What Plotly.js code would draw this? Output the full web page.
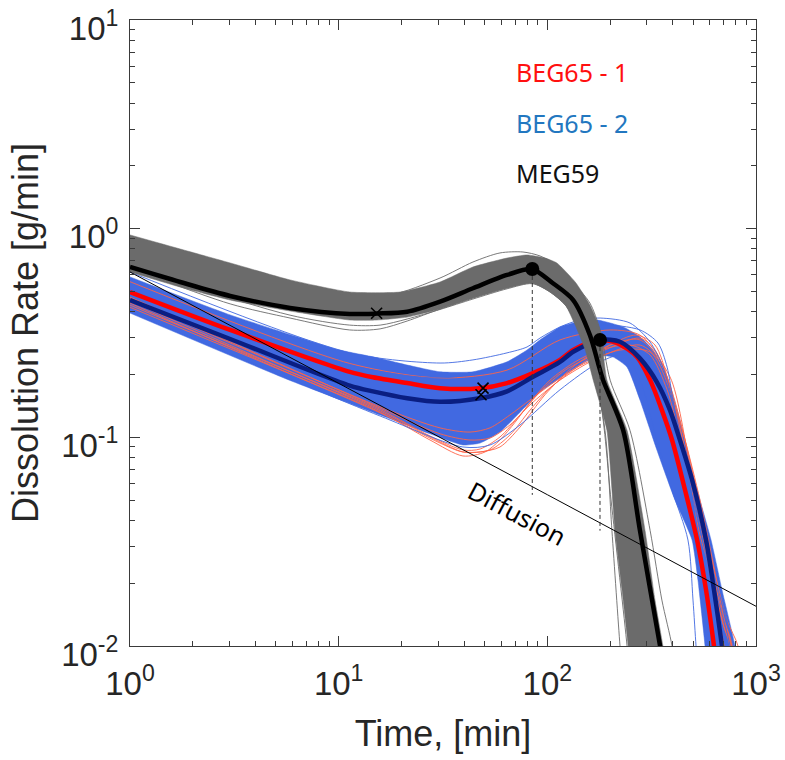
<!DOCTYPE html>
<html><head><meta charset="utf-8">
<script src="https://cdn.plot.ly/plotly-3.0.1.min.js"></script>
<style>html,body{margin:0;padding:0;background:#fff}</style>
</head><body><div id="chart" style="width:785px;height:760px"></div>
<script>
// ---------- data (time in min, rate in g/min) ----------
const xTickVals = [1, 10, 100, 1000];
const xTickText = ['10<sup>0</sup>', '10<sup>1</sup>', '10<sup>2</sup>', '10<sup>3</sup>'];
const yTickVals = [0.01, 0.1, 1, 10];
const yTickText = ['10<sup>-2</sup>', '10<sup>-1</sup>', '10<sup>0</sup>', '10<sup>1</sup>'];
const xMinorTickVals = [2, 3, 4, 5, 6, 7, 8, 9, 20, 30, 40, 50, 60, 70, 80, 90, 200, 300, 400, 500, 600, 700, 800, 900];
const yMinorTickVals = [0.02, 0.03, 0.04, 0.05, 0.06, 0.07, 0.08, 0.09, 0.2, 0.3, 0.4, 0.5, 0.6, 0.7, 0.8, 0.9, 2, 3, 4, 5, 6, 7, 8, 9];

// MEG59 ensemble envelope
const megBandUpperT = [1, 1.74, 3.02, 5.85, 11.3, 19.7, 30.6, 44.0, 64.1, 79.9, 97.5, 111, 136, 160, 179, 193, 241, 294, 328, 358, 371];
const megBandUpperRate = [0.933, 0.799, 0.685, 0.568, 0.497, 0.497, 0.555, 0.655, 0.723, 0.748, 0.723, 0.685, 0.555, 0.431, 0.327, 0.188, 0.108, 0.0357, 0.0166, 0.0100, 0.00767];
const megBandLowerT = [1, 1.74, 3.02, 5.85, 11.3, 15.3, 21.3, 30.6, 44.0, 64.1, 84.5, 103, 122, 136, 152, 166, 193, 211, 228, 244, 249];
const megBandLowerRate = [0.620, 0.525, 0.455, 0.403, 0.365, 0.365, 0.377, 0.412, 0.465, 0.520, 0.549, 0.497, 0.431, 0.345, 0.262, 0.188, 0.108, 0.0357, 0.0186, 0.0100, 0.00767];
// MEG59 individual outlying runs
const megRunA_T = [1, 3.02, 5.85, 11.3, 15.8, 21.3, 30.6, 44.0, 64.1, 84.5, 103, 122, 143, 166, 189, 204, 223, 228];
const megRunA_Rate = [0.648, 0.436, 0.373, 0.327, 0.331, 0.361, 0.412, 0.465, 0.520, 0.549, 0.497, 0.431, 0.327, 0.217, 0.108, 0.0357, 0.0100, 0.00767];
const megRunB_T = [1, 5.85, 11.3, 15.8, 21.3, 30.6, 44.0, 64.1, 84.5, 103, 122, 143, 179, 202, 241, 246];
const megRunB_Rate = [0.66, 0.385, 0.345, 0.345, 0.369, 0.41, 0.46, 0.515, 0.545, 0.50, 0.43, 0.33, 0.151, 0.0501, 0.0100, 0.00767];
const megRunC_T = [10.15, 17.6, 30.6, 44.0, 59.3, 76.4, 92.2, 115, 139, 160, 179, 200, 249, 311, 354, 396, 409];
const megRunC_Rate = [0.486, 0.481, 0.580, 0.692, 0.765, 0.773, 0.740, 0.655, 0.525, 0.440, 0.327, 0.188, 0.108, 0.0357, 0.0166, 0.0100, 0.00767];
// MEG59 mean
const megMeanT = [1, 1.74, 3.02, 5.85, 11.3, 15.3, 21.3, 30.6, 44.0, 64.1, 84.5, 106, 133, 160, 175, 185, 231, 278, 347, 379];
const megMeanRate = [0.655, 0.555, 0.476, 0.417, 0.390, 0.392, 0.400, 0.447, 0.518, 0.600, 0.639, 0.549, 0.455, 0.309, 0.227, 0.188, 0.108, 0.0357, 0.0100, 0.0060];

// BEG65 ensemble envelope
const begBandUpperT = [1, 3.02, 10.15, 14.6, 21.3, 30.6, 44.0, 64.1, 79.9, 92.2, 115, 133, 173, 231, 278, 321, 375, 432, 499, 609, 687, 793, 820];
const begBandUpperRate = [0.587, 0.386, 0.262, 0.243, 0.222, 0.206, 0.206, 0.230, 0.262, 0.293, 0.338, 0.353, 0.365, 0.338, 0.303, 0.262, 0.195, 0.121, 0.066, 0.0322, 0.0186, 0.0100, 0.00767];
const begBandLowerT = [1, 5.65, 15.8, 27.4, 39.4, 47.6, 59.3, 74.0, 92.2, 115, 143, 173, 206, 241, 278, 335, 409, 494, 527, 570, 582];
const begBandLowerRate = [0.394, 0.190, 0.128, 0.104, 0.0919, 0.0939, 0.106, 0.132, 0.165, 0.1925, 0.222, 0.2455, 0.243, 0.217, 0.151, 0.0870, 0.0501, 0.0322, 0.0207, 0.0100, 0.00767];

// BEG65 - 1 individual runs (thin orange-red)
const beg1RunA_T = [1, 5.65, 15.8, 27.4, 39.4, 50.3, 59.3, 70.0, 84.5, 103, 136, 179, 249, 311, 375, 447, 522, 602, 687, 751, 767];
const beg1RunA_Rate = [0.44, 0.205, 0.132, 0.0971, 0.0814, 0.0851, 0.0971, 0.118, 0.151, 0.188, 0.230, 0.262, 0.277, 0.248, 0.169, 0.0870, 0.0449, 0.0231, 0.0133, 0.0100, 0.00767];
const beg1RunB_T = [1, 5.65, 15.8, 27.4, 39.4, 47.6, 59.3, 74.0, 92.2, 122, 179, 278, 328, 387, 457, 539, 622, 726, 820, 838];
const beg1RunB_Rate = [0.45, 0.21, 0.136, 0.1015, 0.0870, 0.0879, 0.1004, 0.128, 0.165, 0.210, 0.256, 0.299, 0.262, 0.178, 0.0971, 0.0474, 0.0244, 0.0133, 0.0100, 0.00767];
const beg1RunC_T = [1, 15.8, 30.6, 42.6, 53.1, 66.2, 82.6, 103, 143, 200, 266, 328, 379, 442, 522, 602, 687, 759, 776];
const beg1RunC_Rate = [0.46, 0.14, 0.111, 0.106, 0.111, 0.128, 0.151, 0.178, 0.222, 0.277, 0.309, 0.277, 0.188, 0.0971, 0.0474, 0.0250, 0.0141, 0.0100, 0.00767];
const beg1RunD_T = [1, 11.3, 30.6, 64.1, 115, 200, 278, 347, 432, 539, 636, 703, 718];
const beg1RunD_Rate = [0.557, 0.226, 0.1925, 0.210, 0.293, 0.327, 0.309, 0.235, 0.108, 0.0402, 0.0166, 0.0100, 0.00767];
const beg1RunE_T = [1, 15.8, 27.4, 39.4, 47.6, 59.3, 74.0, 97.5, 136, 200, 278, 387, 483, 582, 694, 767, 793];
const beg1RunE_Rate = [0.43, 0.134, 0.1004, 0.0851, 0.0851, 0.0899, 0.112, 0.160, 0.222, 0.277, 0.293, 0.195, 0.0723, 0.0300, 0.0138, 0.0100, 0.00767];
const beg1RunF_T = [1, 15.8, 30.6, 39.4, 53.1, 66.2, 82.6, 103, 143, 223, 311, 379, 452, 539, 615, 710, 767, 785];
const beg1RunF_Rate = [0.42, 0.131, 0.0939, 0.0851, 0.0870, 0.1026, 0.135, 0.172, 0.220, 0.262, 0.256, 0.178, 0.0919, 0.0340, 0.0219, 0.0119, 0.0100, 0.00767];
const beg1RunG_T = [1, 15.8, 30.6, 42.6, 53.1, 66.2, 82.6, 115, 179, 278, 347, 400, 457, 539, 629, 710, 776, 793];
const beg1RunG_Rate = [0.47, 0.138, 0.104, 0.0971, 0.0993, 0.1146, 0.143, 0.188, 0.243, 0.277, 0.230, 0.151, 0.0971, 0.0501, 0.0239, 0.0130, 0.0100, 0.00767];

// BEG65 - 2 individual runs (thin blue)
const beg2RunA_T = [1, 11.3, 30.6, 44.0, 64.1, 79.9, 92.2, 115, 143, 179, 249, 311, 358, 409, 472, 557, 658, 767, 793];
const beg2RunA_Rate = [0.620, 0.254, 0.227, 0.235, 0.254, 0.271, 0.299, 0.338, 0.365, 0.373, 0.353, 0.286, 0.217, 0.135, 0.0697, 0.0340, 0.0186, 0.0107, 0.00857];
const beg2RunB_T = [1, 11.3, 30.6, 64.1, 115, 179, 278, 339, 375, 400, 432, 499, 576, 658, 751, 767];
const beg2RunB_Rate = [0.508, 0.222, 0.1925, 0.222, 0.309, 0.345, 0.327, 0.283, 0.217, 0.151, 0.0971, 0.0501, 0.0273, 0.0166, 0.0100, 0.00767];
const beg2RunC_T = [1, 15.8, 39.4, 53.1, 74.0, 115, 179, 236, 284, 335, 396, 472, 499, 516, 527];
const beg2RunC_Rate = [0.399, 0.1265, 0.0899, 0.0919, 0.1146, 0.169, 0.230, 0.248, 0.178, 0.0971, 0.0559, 0.0322, 0.0166, 0.0100, 0.00767];

// means
const beg1MeanT = [1, 3.02, 11.3, 14.6, 21.3, 30.6, 47.6, 64.1, 85.4, 115, 133, 173, 216, 269, 311, 354, 396, 457, 522, 576, 629, 650];
const beg1MeanRate = [0.497, 0.327, 0.206, 0.194, 0.182, 0.172, 0.172, 0.182, 0.203, 0.235, 0.262, 0.293, 0.283, 0.243, 0.188, 0.135, 0.0971, 0.0559, 0.0322, 0.0186, 0.0100, 0.00767];
const beg2MeanT = [1, 3.02, 11.3, 14.6, 21.3, 30.6, 47.6, 64.1, 85.4, 115, 133, 179, 223, 278, 335, 387, 432, 494, 576, 629, 687, 710];
const beg2MeanRate = [0.455, 0.296, 0.177, 0.166, 0.154, 0.148, 0.154, 0.166, 0.195, 0.230, 0.257, 0.293, 0.287, 0.239, 0.184, 0.135, 0.0971, 0.0625, 0.0322, 0.0186, 0.0100, 0.00767];

// diffusion line
const diffT = [1, 10, 100, 1000];
const diffRate = [0.62, 0.182, 0.0531, 0.0155];

// peaks, dashed drop lines, inflection crosses
const peakT = [84.7, 178.8];
const peakRate = [0.641, 0.293];
const dashBottomRate = [0.053, 0.0357];
const crossT = [15.2, 49.2, 48.1];
const crossRate = [0.393, 0.172, 0.160];

// labels
const seriesLabels = ['BEG65 - 1', 'BEG65 - 2', 'MEG59'];
const seriesLabelColors = ['#ff1010', '#2277c0', '#111111'];
const diffusionLabel = 'Diffusion';

// ---------- traces ----------
const GRAY = '#6b6b6b', BLUE = '#4169e1', ORANGE = '#ff6347', NAVY = '#0a1e82';
function poly(ut, ur, lt, lr, color) {
  return {x: ut.concat(lt.slice().reverse()), y: ur.concat(lr.slice().reverse()),
    mode: 'lines', fill: 'toself', fillcolor: color, line: {width: 0.5, color: color, shape: 'spline', smoothing: 0.5},
    hoverinfo: 'skip'};
}
function thin(t, r, color, w) {
  return {x: t, y: r, mode: 'lines', line: {color: color, width: w || 0.9, shape: 'spline', smoothing: 0.8}, hoverinfo: 'skip'};
}
function thick(t, r, color) {
  return {x: t, y: r, mode: 'lines', line: {color: color, width: 4.5, shape: 'spline', smoothing: 0.8}};
}
const traces = [
  poly(begBandUpperT, begBandUpperRate, begBandLowerT, begBandLowerRate, BLUE),
  thin(beg1RunA_T, beg1RunA_Rate, ORANGE),
  thin(beg1RunB_T, beg1RunB_Rate, ORANGE),
  thin(beg1RunC_T, beg1RunC_Rate, ORANGE),
  thin(beg1RunD_T, beg1RunD_Rate, ORANGE),
  thin(beg1RunE_T, beg1RunE_Rate, ORANGE),
  thin(beg1RunF_T, beg1RunF_Rate, ORANGE),
  thin(beg1RunG_T, beg1RunG_Rate, ORANGE),
  thin(beg2RunA_T, beg2RunA_Rate, BLUE),
  thin(beg2RunB_T, beg2RunB_Rate, BLUE),
  thin(beg2RunC_T, beg2RunC_Rate, BLUE),
  thick(beg1MeanT, beg1MeanRate, '#ff0000'),
  thick(beg2MeanT, beg2MeanRate, NAVY),
  poly(megBandUpperT, megBandUpperRate, megBandLowerT, megBandLowerRate, GRAY),
  thin(megRunA_T, megRunA_Rate, GRAY),
  thin(megRunB_T, megRunB_Rate, GRAY),
  thin(megRunC_T, megRunC_Rate, GRAY),
  thick(megMeanT, megMeanRate, '#000000'),
  {x: diffT, y: diffRate, mode: 'lines', line: {color: '#000', width: 1}}
];
for (let i = 0; i < peakT.length; i++) {
  traces.push({x: [peakT[i], peakT[i]], y: [peakRate[i], dashBottomRate[i]], mode: 'lines',
    line: {color: '#333', width: 1, dash: '4px,3px'}});
}
traces.push({x: crossT, y: crossRate, mode: 'markers',
  marker: {symbol: 'x-thin-open', size: 11, color: '#000', line: {width: 1.6, color: '#000'}}});
traces.push({x: peakT, y: peakRate, mode: 'markers', marker: {symbol: 'circle', size: 14, color: '#000'}});

const AXC = '#3a3a3a';
const axisCommon = {
  type: 'log', showgrid: false, zeroline: false, showline: true, linecolor: AXC, linewidth: 1,
  mirror: 'allticks', ticks: 'inside', ticklen: 10, tickwidth: 1, tickcolor: AXC,
  tickmode: 'array', ticklabeloverflow: 'allow',
  tickfont: {family: 'Liberation Sans, Arial, sans-serif', size: 33, color: '#262626'}
};
const layout = {
  width: 785, height: 760, showlegend: false,
  paper_bgcolor: '#fff', plot_bgcolor: '#fff',
  margin: {l: 130, r: 29, t: 20, b: 114},
  xaxis: Object.assign({}, axisCommon, {range: [0, 3], tickvals: xTickVals, ticktext: xTickText,
    ticklabelstandoff: 8,
    minor: {tickmode: 'array', tickvals: xMinorTickVals, ticks: 'inside', ticklen: 5, tickwidth: 1, tickcolor: AXC, showgrid: false},
    title: {text: 'Time, [min]', font: {family: 'Liberation Sans, Arial, sans-serif', size: 36, color: '#262626'}, standoff: 20}}),
  yaxis: Object.assign({}, axisCommon, {range: [-2, 1], tickvals: yTickVals, ticktext: yTickText,
    ticklabelstandoff: 4, ticklabelshift: 8,
    minor: {tickmode: 'array', tickvals: yMinorTickVals, ticks: 'inside', ticklen: 5, tickwidth: 1, tickcolor: AXC, showgrid: false},
    title: {text: 'Dissolution Rate [g/min]', font: {family: 'Liberation Sans, Arial, sans-serif', size: 36, color: '#262626'}, standoff: 11}}),
  annotations: [
    {xref: 'paper', yref: 'paper', x: 0.613, y: 0.917, xanchor: 'left', yanchor: 'middle', showarrow: false,
     text: seriesLabels[0], font: {family: 'Noto Sans', size: 25, color: seriesLabelColors[0]}},
    {xref: 'paper', yref: 'paper', x: 0.613, y: 0.835, xanchor: 'left', yanchor: 'middle', showarrow: false,
     text: seriesLabels[1], font: {family: 'Noto Sans', size: 25, color: seriesLabelColors[1]}},
    {xref: 'paper', yref: 'paper', x: 0.613, y: 0.756, xanchor: 'left', yanchor: 'middle', showarrow: false,
     text: seriesLabels[2], font: {family: 'Noto Sans', size: 25, color: seriesLabelColors[2]}},
    {xref: 'paper', yref: 'paper', x: 0.619, y: 0.212, xanchor: 'center', yanchor: 'middle', showarrow: false,
     textangle: 28, text: diffusionLabel, font: {family: 'Noto Sans', size: 25, color: '#000'}}
  ]
};
Plotly.newPlot('chart', traces, layout, {staticPlot: true, displayModeBar: false});
</script></body></html>
